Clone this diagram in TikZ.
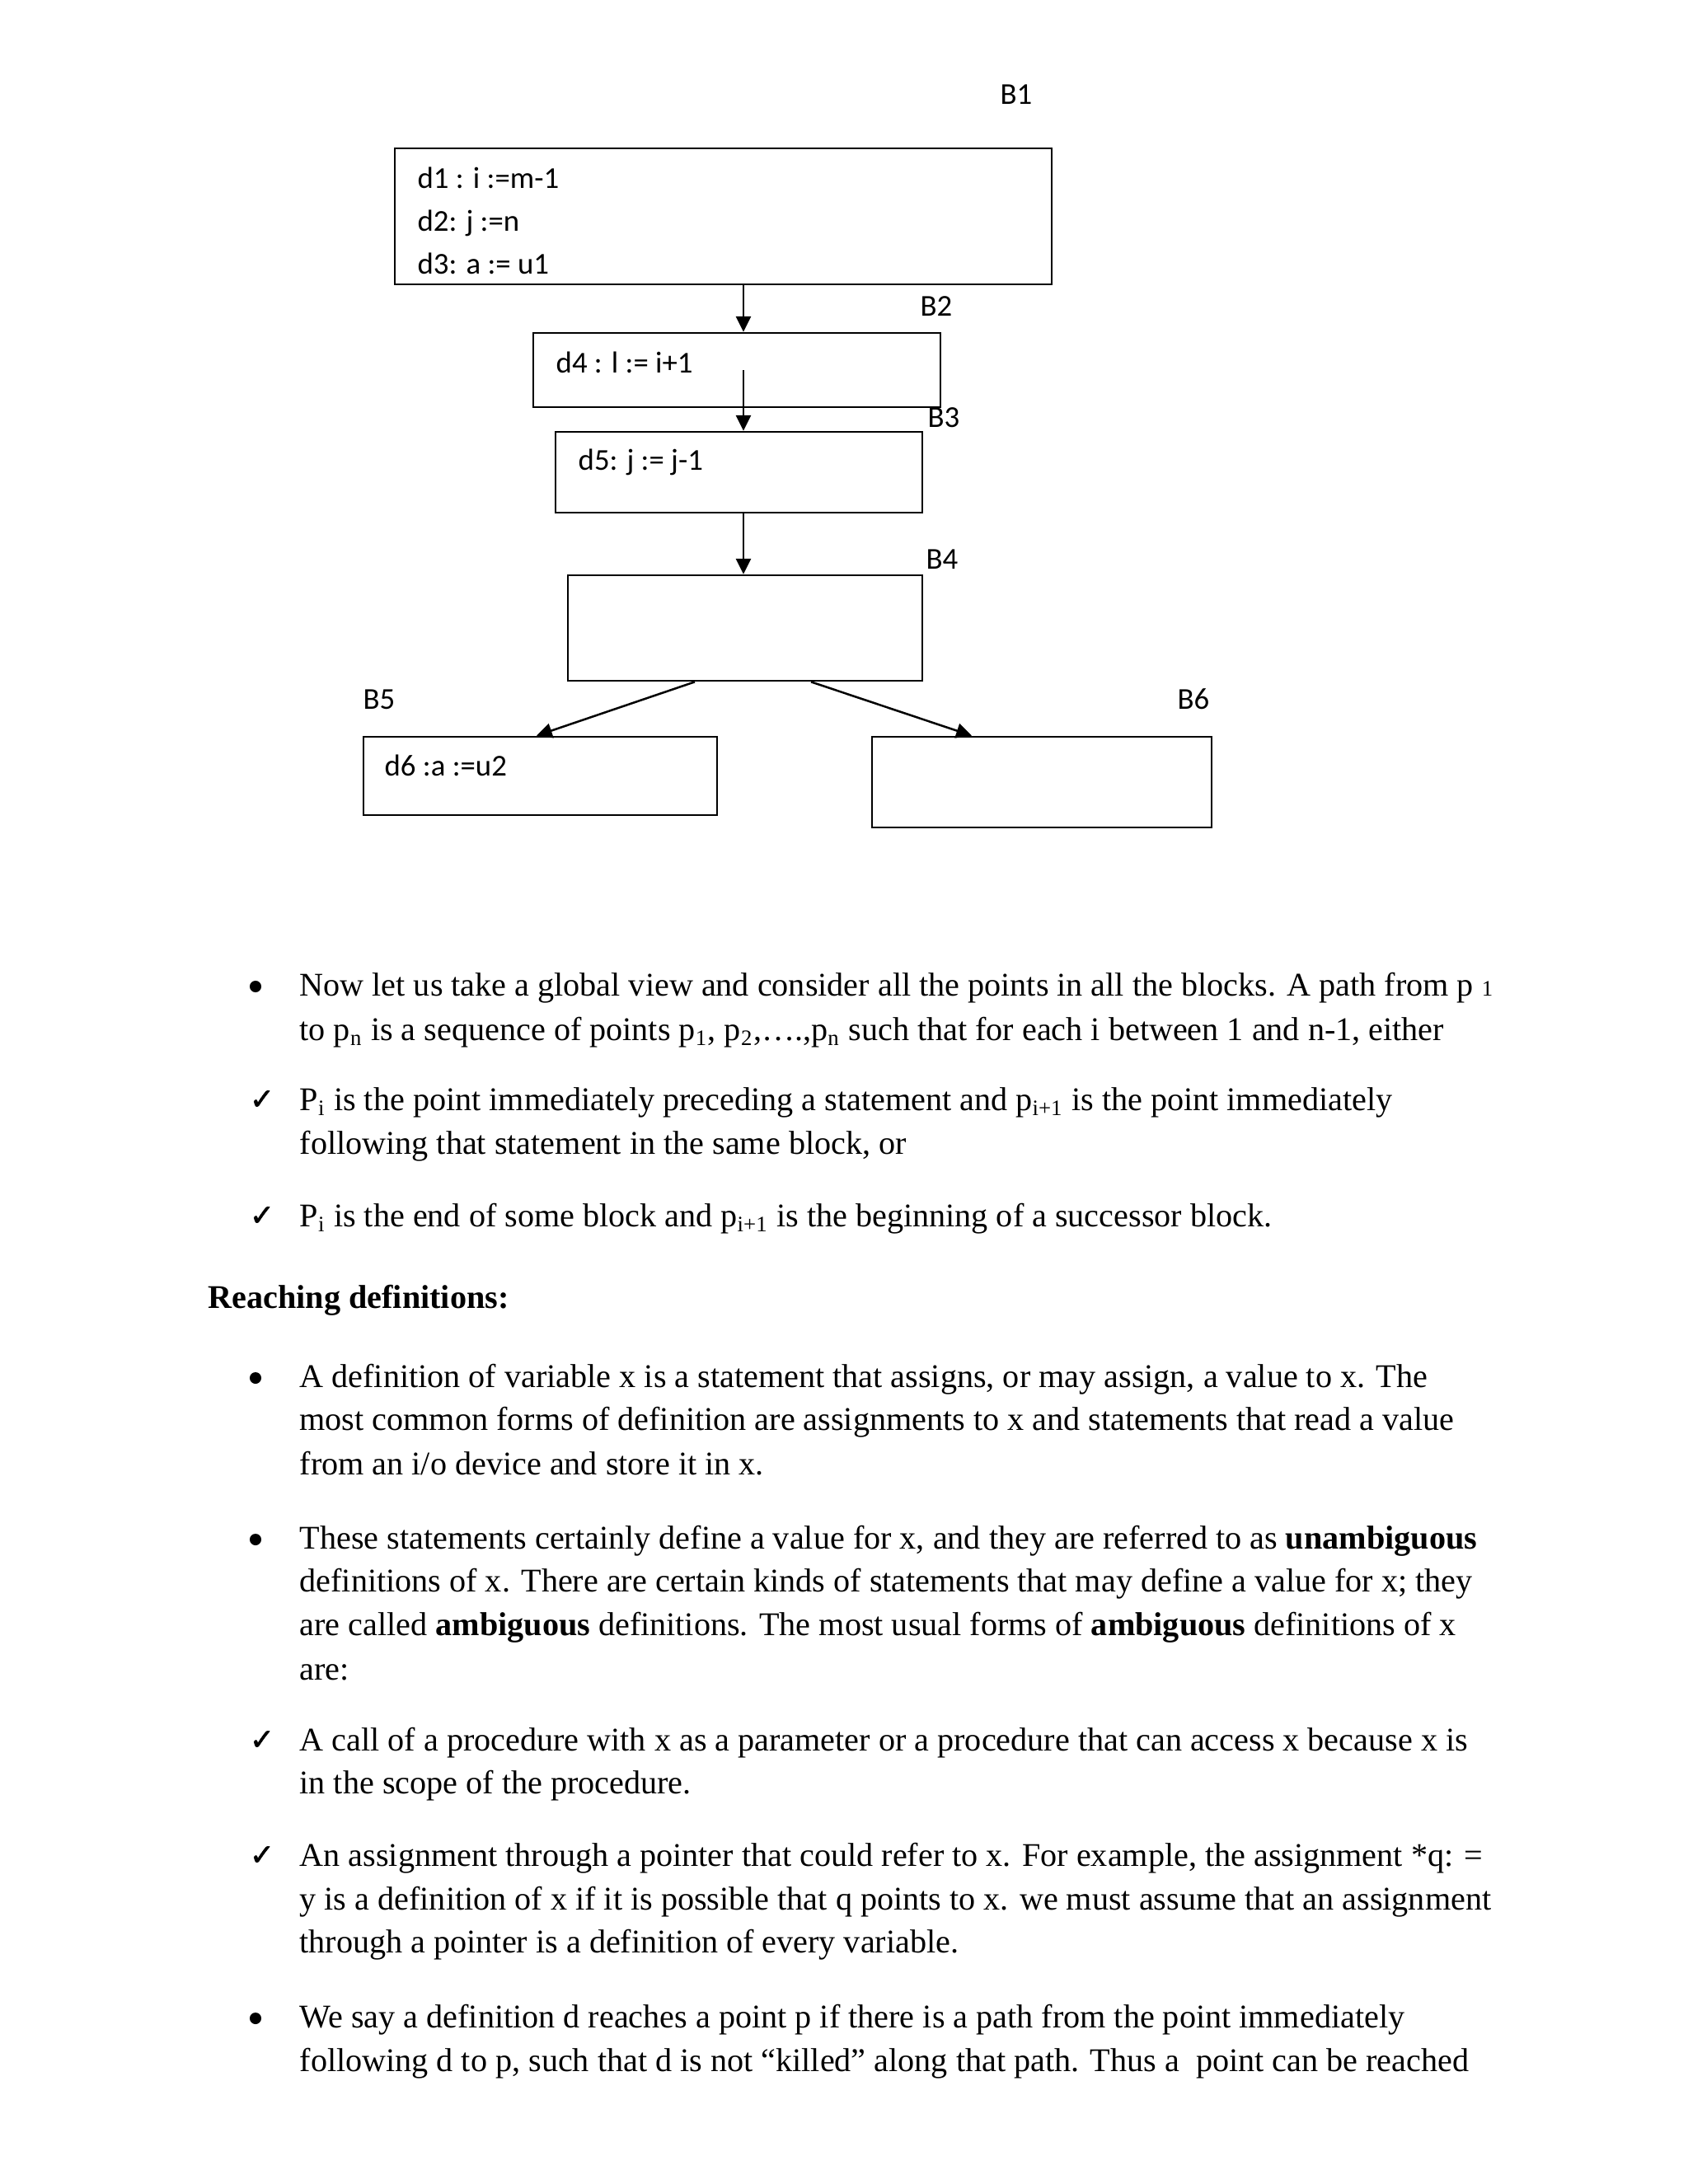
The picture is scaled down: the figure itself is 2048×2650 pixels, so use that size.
\documentclass[tikz,border=0pt]{standalone}
\usepackage{fontspec}
\setmainfont{Liberation Serif}
\newfontfamily\calib{Carlito}
\newfontfamily\chkfont[FakeBold=1.6]{DejaVu Sans}
\usetikzlibrary{arrows.meta,fit}
\tikzset{
  box/.style={draw,line width=0.8pt,inner sep=0pt},
  code/.style={font=\calib\fontsize{11}{13}\selectfont,anchor=base west,inner sep=0pt},
  blabel/.style={font=\calib\fontsize{11}{13}\selectfont,anchor=base,inner sep=0pt},
  arr/.style={line width=0.75pt,-{Triangle[length=5.6pt,width=5.4pt]}},
  body/.style={font=\fontsize{12}{14}\selectfont,anchor=base west,inner sep=0pt},
  bul/.style={circle,fill=black,inner sep=0pt,minimum size=4.2pt},
  chk/.style={font=\chkfont\fontsize{10.8}{12}\selectfont,anchor=base,inner sep=0pt}
}
\newcommand{\sbs}[1]{\textsubscript{#1}}
\begin{document}
\begin{tikzpicture}[x=0.298828pt,y=-0.298828pt]
\useasboundingbox (0,0) rectangle (2048,2650);
% ---- box corners ----
\coordinate (b1nw) at (479,180);  \coordinate (b1se) at (1276,345);
\coordinate (b2nw) at (647,404);  \coordinate (b2se) at (1141,494);
\coordinate (b3nw) at (674,524);  \coordinate (b3se) at (1119,622);
\coordinate (b4nw) at (689,698);  \coordinate (b4se) at (1119,826);
\coordinate (b5nw) at (441,894);  \coordinate (b5se) at (870,989);
\coordinate (b6nw) at (1058,894); \coordinate (b6se) at (1470,1004);
\node[box,fit=(b1nw)(b1se)] (b1) {};
\node[box,fit=(b2nw)(b2se)] (b2) {};
\node[box,fit=(b3nw)(b3se)] (b3) {};
\node[box,fit=(b4nw)(b4se)] (b4) {};
\node[box,fit=(b5nw)(b5se)] (b5) {};
\node[box,fit=(b6nw)(b6se)] (b6) {};
% ---- block labels ----
\node[blabel] (lb1) at (1233,126) {B1};
\node[blabel] (lb2) at (1136,383) {B2};
\node[blabel] (lb3) at (1145,518) {B3};
\node[blabel] (lb4) at (1143,690) {B4};
\node[blabel] (lb5) at (460,860) {B5};
\node[blabel] (lb6) at (1448,860) {B6};
% ---- code ----
\node[code] (d1) at (506,228) {d1 : i :=m-1};
\node[code] (d2) at (506,280) {d2: j :=n};
\node[code] (d3) at (506,332) {d3: a := u1};
\node[code] (d4) at (674,452) {d4 : l := i+1};
\node[code] (d5) at (701,570) {d5: j := j-1};
\node[code] (d6) at (466,941) {d6 :a :=u2};
% ---- arrows ----
\coordinate (ax) at (902,0);
\coordinate (a2s) at (902,449);
\coordinate (p4s) at (843,0);
\coordinate (p4e) at (651,0);
\coordinate (p5s) at (984,0);
\coordinate (p5e) at (1179,0);
\draw[arr] (ax |- b1.south) -- (ax |- b2.north);
\draw[arr] (a2s) -- (a2s |- b3.north);
\draw[arr] (ax |- b3.south) -- (ax |- b4.north);
\draw[arr] (p4s |- b4.south) -- (p4e |- b5.north);
\draw[arr] (p5s |- b4.south) -- (p5e |- b6.north);
% ---- body text ----
\node[bul] (m1) at (310,1197) {};
\node[body] (t1) at (363,1208) {Now let us take a global view and consider all the points in all the blocks. A path from p {\fontsize{8}{8}\selectfont 1}};
\node[body] (t2) at (363,1262) {to p\sbs{n} is a sequence of points p\sbs{1}, p\sbs{2},….,p\sbs{n} such that for each i between 1 and n-1, either};
\node[chk] (m2) at (318,1346) {✓};
\node[body] (t3) at (363,1347) {P\sbs{i} is the point immediately preceding a statement and p\sbs{i+1} is the point immediately};
\node[body] (t4) at (363,1400) {following that statement in the same block, or};
\node[chk] (m3) at (318,1487) {✓};
\node[body] (t5) at (363,1488) {P\sbs{i} is the end of some block and p\sbs{i+1} is the beginning of a successor block.};
\node[body] (h1) at (252,1587) {\textbf{Reaching definitions:}};
\node[bul] (m4) at (310,1672) {};
\node[body] (t6) at (363,1683) {A definition of variable x is a statement that assigns, or may assign, a value to x. The};
\node[body] (t7) at (363,1735) {most common forms of definition are assignments to x and statements that read a value};
\node[body] (t8) at (363,1789) {from an i/o device and store it in x.};
\node[bul] (m5) at (310,1868) {};
\node[body] (t9) at (363,1879) {These statements certainly define a value for x, and they are referred to as \textbf{unambiguous}};
\node[body] (t10) at (363,1931) {definitions of x. There are certain kinds of statements that may define a value for x; they};
\node[body] (t11) at (363,1984) {are called \textbf{ambiguous} definitions. The most usual forms of \textbf{ambiguous} definitions of x};
\node[body] (t12) at (363,2038) {are:};
\node[chk] (m6) at (318,2123) {✓};
\node[body] (t13) at (363,2124) {A call of a procedure with x as a parameter or a procedure that can access x because x is};
\node[body] (t14) at (363,2176) {in the scope of the procedure.};
\node[chk] (m7) at (318,2263) {✓};
\node[body] (t15) at (363,2264) {An assignment through a pointer that could refer to x. For example, the assignment *q: =};
\node[body] (t16) at (363,2317) {y is a definition of x if it is possible that q points to x. we must assume that an assignment};
\node[body] (t17) at (363,2369) {through a pointer is a definition of every variable.};
\node[bul] (m8) at (310,2449) {};
\node[body] (t18) at (363,2460) {We say a definition d reaches a point p if there is a path from the point immediately};
\node[body] (t19) at (363,2513) {following d to p, such that d is not “killed” along that path. Thus a~ point can be reached};
\end{tikzpicture}
\end{document}
